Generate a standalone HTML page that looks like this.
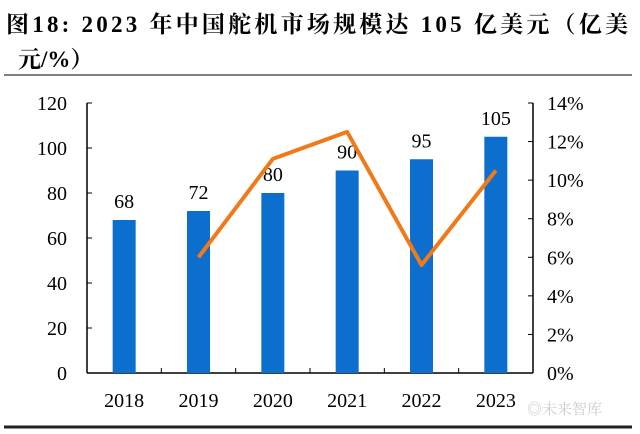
<!DOCTYPE html>
<html><head><meta charset="utf-8"><style>
body{margin:0;background:#fff;width:640px;height:429px;overflow:hidden}
svg text{font-family:"Liberation Serif","Noto Serif CJK SC",serif}
</style></head><body>
<svg width="640" height="429">
<text x="6" y="32" font-size="23" font-weight="bold" textLength="622" lengthAdjust="spacing">图18:  2023 年中国舵机市场规模达 105 亿美元（亿美</text>
<text x="18" y="67" font-size="23" font-weight="bold">元/%）</text>
<line x1="4" y1="75" x2="632" y2="75" stroke="#555" stroke-width="1.5"/>
<line x1="4" y1="427" x2="632" y2="427" stroke="#222" stroke-width="3"/>
<g id="g"></g>
<text x="527" y="414" font-size="15" fill="#ccc" font-family="Noto Sans CJK SC,sans-serif">◎未来智库</text>
</svg>
<script>
const categories=["2018","2019","2020","2021","2022","2023"];
const marketSize=[68,72,80,90,95,105];
const growth=[null,6.0,11.1,12.5,5.6,10.5];
const leftTicks=[0,20,40,60,80,100,120];
const rightTicks=[0,2,4,6,8,10,12,14];
const L=87,R=533,T=103,B=373;
const g=document.getElementById('g');
const ns='http://www.w3.org/2000/svg';
const yL=v=>B-(v/120)*(B-T);
const yR=v=>B-(v/14)*(B-T);
const cw=(R-L)/categories.length;
const xC=i=>L+cw*(i+0.5);
function mk(t,a,txt){const e=document.createElementNS(ns,t);for(const k in a)e.setAttribute(k,a[k]);if(txt!=null)e.textContent=txt;g.appendChild(e);return e;}
let e;
e=mk('line',{x1:L,y1:T,x2:L,y2:B,stroke:'#000','stroke-width':1.5});


e=mk('line',{x1:R,y1:T,x2:R,y2:B,stroke:'#000','stroke-width':1.5});


e=mk('line',{x1:L,y1:B,x2:R,y2:B,stroke:'#000','stroke-width':1.5});


leftTicks.forEach(v=>{const y=yL(v);mk('line',{x1:L,y1:y,x2:L+5,y2:y,stroke:'#000'});
e=mk('text',{x:L-20,y:y+7,'font-size':20,'text-anchor':'end'},v);

});
rightTicks.forEach(v=>{const y=yR(v);mk('line',{x1:R-5,y1:y,x2:R,y2:y,stroke:'#000'});
e=mk('text',{x:R+14,y:y+7,'font-size':20},v+'%');

});
for(let i=1;i<categories.length;i++){mk('line',{x1:L+cw*i,y1:B,x2:L+cw*i,y2:B-5,stroke:'#000'});}
categories.forEach((c,i)=>{
e=mk('rect',{x:xC(i)-11.5,y:yL(marketSize[i]),width:23,height:B-yL(marketSize[i]),fill:'#0c6fcd'});


e=mk('text',{x:xC(i),y:yL(marketSize[i])-12,'font-size':20,'text-anchor':'middle'},marketSize[i]);


e=mk('text',{x:xC(i),y:B+34,'font-size':20,'text-anchor':'middle'},c);


});
const pts=growth.map((v,i)=>v==null?null:xC(i)+','+yR(v)).filter(p=>p);
e=mk('polyline',{points:pts.join(' '),fill:'none',stroke:'#f07a1a','stroke-width':4,'stroke-linejoin':'round'});


</script>
</body></html>
